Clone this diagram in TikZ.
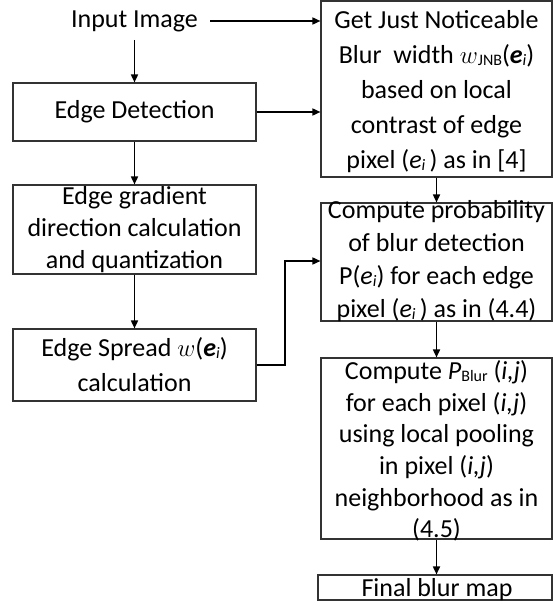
\documentclass[tikz,border=0pt]{standalone}
\usepackage{fontspec}
\setmainfont{Carlito}
\usetikzlibrary{arrows.meta}

% small lowered index text
\newcommand{\sbx}[1]{\raisebox{-2pt}{\fontsize{16}{16}\selectfont #1}}
% spread width symbol
\newcommand{\wsym}{\ensuremath{w}}
% bold italic e with index i
\newcommand{\ebi}{\textbf{\textit{e}}\sbx{\itshape i}}
\newcommand{\ei}{\textit{e}\sbx{\itshape i}}

\tikzset{
  box/.style={draw=black!80, line width=1.1pt, inner sep=0pt},
  txt/.style={align=center, inner sep=0pt, font=\fontsize{26}{33}\selectfont},
  arr/.style={-{Triangle[length=8pt,width=7pt]}, line width=1.6pt},
}

\begin{document}
\begin{tikzpicture}[x=1pt,y=-1pt]
\useasboundingbox (0,0) rectangle (553,615);

% left column
\node[txt] (input) at (134.5,21) {Input Image};
\node[box, minimum width=243pt, minimum height=58pt] (ed) at (134.5,112) {};
\node[txt] (edt) at (ed.center) {Edge Detection};
\node[box, minimum width=243pt, minimum height=89pt] (grad) at (134.5,229.5) {};
\node[txt, font=\fontsize{26}{32}\selectfont] (gradt) at (grad.center)
  {Edge gradient\\direction calculation\\and quantization};
\node[box, minimum width=243pt, minimum height=72pt] (spread) at (134.5,365) {};
\node[txt, font=\fontsize{26}{35}\selectfont] (spreadt) at (spread.center)
  {Edge Spread \wsym(\ebi)\\calculation};

% right column
\node[box, minimum width=231pt, minimum height=176pt] (jnb) at (436.5,89) {};
\node[txt, font=\fontsize{26}{35}\selectfont] (jnbt) at (436.5,92)
  {Get Just Noticeable\\Blur\ \ width \wsym\sbx{JNB}(\ebi)\\based on local\\contrast of edge\\pixel (\ei\,) as in [4]};
\node[box, minimum width=231pt, minimum height=118pt] (prob) at (436.5,262) {};
\node[txt] (probt) at (436.5,261)
  {Compute probability\\of blur detection\\P(\ei) for each edge\\pixel (\ei\,) as in (4.4)};
\node[box, minimum width=231pt, minimum height=181pt] (pblur) at (436.5,448.5) {};
\node[txt, font=\fontsize{26}{31.6}\selectfont] (pblurt) at (436.5,451)
  {Compute \textit{P}\sbx{Blur} (\textit{i,j})\\for each pixel (\textit{i,j})\\using local pooling\\in pixel (\textit{i,j})\\neighborhood as in\\(4.5)};
\node[box, minimum width=234pt, minimum height=25pt] (final) at (435,587.5) {};
\node[txt] (finalt) at (437,590) {Final blur map};

% connectors
\draw[arr, shorten <=8pt] (input.south) -- (ed.north);
\draw[arr, shorten <=12pt] (input.east) -- (input.east -| jnb.west);
\draw[arr] (ed.east) -- (ed.east -| jnb.west);
\draw[arr] (ed.south) -- (grad.north);
\draw[arr] (grad.south) -- (spread.north);
\coordinate (bend) at (285,261);
\draw[arr] (spread.east) -| (bend) -- (bend -| prob.west);
\draw[arr] (jnb.south) -- (prob.north);
\draw[arr] (prob.south) -- (pblur.north);
\draw[arr] (pblur.south) -- (pblur.south |- final.north);
\end{tikzpicture}
\end{document}
